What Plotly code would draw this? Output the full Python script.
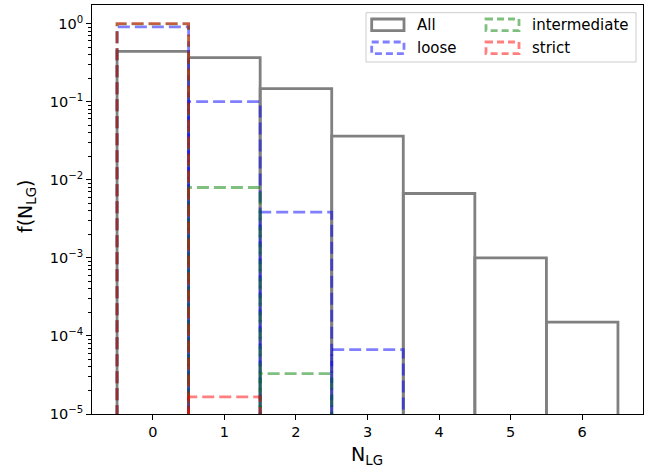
import plotly.graph_objects as go

# Fraction of systems with N_LG members, per selection criterion
n_lg = [0, 1, 2, 3, 4, 5, 6]
f_all = [0.44, 0.366, 0.147, 0.0362, 0.00667, 0.00100, 0.000150]
f_loose = [0.905, 0.100, 0.00384, 0.0000667]
f_intermediate = [0.992, 0.00796, 0.0000329]
f_strict = [0.99998, 0.0000166]

series_names = ["All", "loose", "intermediate", "strict"]
series_values = [f_all, f_loose, f_intermediate, f_strict]
series_colors = ["#808080", "rgba(0,0,255,0.5)", "rgba(0,128,0,0.5)", "rgba(255,0,0,0.5)"]
series_dash = ["solid", "12px,5px", "12px,5px", "12px,5px"]

y_ticks = [1e0, 1e-1, 1e-2, 1e-3, 1e-4, 1e-5]
y_tick_text = ["10<sup>0</sup>", "10<sup>\u22121</sup>", "10<sup>\u22122</sup>",
               "10<sup>\u22123</sup>", "10<sup>\u22124</sup>", "10<sup>\u22125</sup>"]
y_minor = [m * 10.0 ** e for e in range(-5, 1) for m in range(2, 10)]

FLOOR = 1e-7  # below the visible range: bar outlines drop to the axis

W, H = 656, 472
L, R, T, B = 92, 13, 5, 58
PW, PH = W - L - R, H - T - B


def px(x):
    return (x - L) / PW


def py(y):
    return (H - B - y) / PH


def bar_outlines(values):
    # one unfilled rectangle per bin, as in an outlined bar histogram
    xs, ys = [], []
    for i, v in enumerate(values):
        x0, x1 = n_lg[i] - 0.5, n_lg[i] + 0.5
        xs += [x0, x0, x1, x1, None]
        ys += [FLOOR, v, v, FLOOR, None]
    return xs, ys


fig = go.Figure()
for name, vals, col, dash in zip(series_names, series_values, series_colors, series_dash):
    xs, ys = bar_outlines(vals)
    fig.add_trace(go.Scatter(
        x=xs, y=ys, mode="lines", name=name,
        line=dict(color=col, width=2.8, dash=dash), showlegend=False,
    ))

font = dict(family="DejaVu Sans", size=14.5, color="black")

fig.update_layout(
    width=W, height=H,
    margin=dict(l=L, r=R, t=T, b=B),
    paper_bgcolor="white", plot_bgcolor="white",
    font=font,
    xaxis=dict(
        range=[-0.85, 6.85], tickvals=n_lg, ticks="outside", ticklen=5,
        tickcolor="black", showgrid=False, zeroline=False,
        showline=True, linecolor="black", linewidth=1, mirror=True,
        tickfont=font,
    ),
    yaxis=dict(
        type="log", range=[-5, 0.238], tickvals=y_ticks, ticktext=y_tick_text,
        ticks="outside", ticklen=5, tickcolor="black", showgrid=False,
        zeroline=False, showline=True, linecolor="black", linewidth=1, mirror=True,
        tickfont=font,
        minor=dict(tickvals=y_minor, ticks="outside", ticklen=3,
                   tickcolor="black", showgrid=False),
    ),
)

# Axis labels
label_font = dict(family="DejaVu Sans", size=19, color="black")
fig.add_annotation(x=px(367), y=py(456), xref="paper", yref="paper",
                   xanchor="center", yanchor="middle",
                   text="N<sub>LG</sub>", showarrow=False, font=label_font)
fig.add_annotation(x=px(26), y=py(207), xref="paper", yref="paper",
                   xanchor="center", yanchor="middle",
                   text="f(N<sub>LG</sub>)", showarrow=False, textangle=-90,
                   font=label_font)

# Legend with patch-style handles
shapes = [dict(type="rect", xref="paper", yref="paper",
               x0=px(366), x1=px(636), y0=py(12.7), y1=py(62),
               line=dict(color="#cccccc", width=1),
               fillcolor="rgba(255,255,255,0.8)", layer="above")]
legend_pos = [(371.7, 404, 415, 24.8), (371.7, 404, 415, 47.8),
              (486, 519, 530, 24.8), (486, 519, 530, 47.8)]
for idx, (hx0, hx1, tx, ty) in enumerate(legend_pos):
    shapes.append(dict(type="rect", xref="paper", yref="paper",
                       x0=px(hx0), x1=px(hx1), y0=py(ty - 5.8), y1=py(ty + 5.8),
                       line=dict(color=series_colors[idx], width=2.8,
                                 dash="solid" if idx == 0 else "7px,4px"),
                       layer="above"))
    fig.add_annotation(x=px(tx), y=py(ty), xref="paper", yref="paper",
                       text=series_names[idx], showarrow=False, xanchor="left",
                       yanchor="middle", font=dict(family="DejaVu Sans", size=15, color="black"))
fig.update_layout(shapes=shapes)

fig.write_html("out.html")
